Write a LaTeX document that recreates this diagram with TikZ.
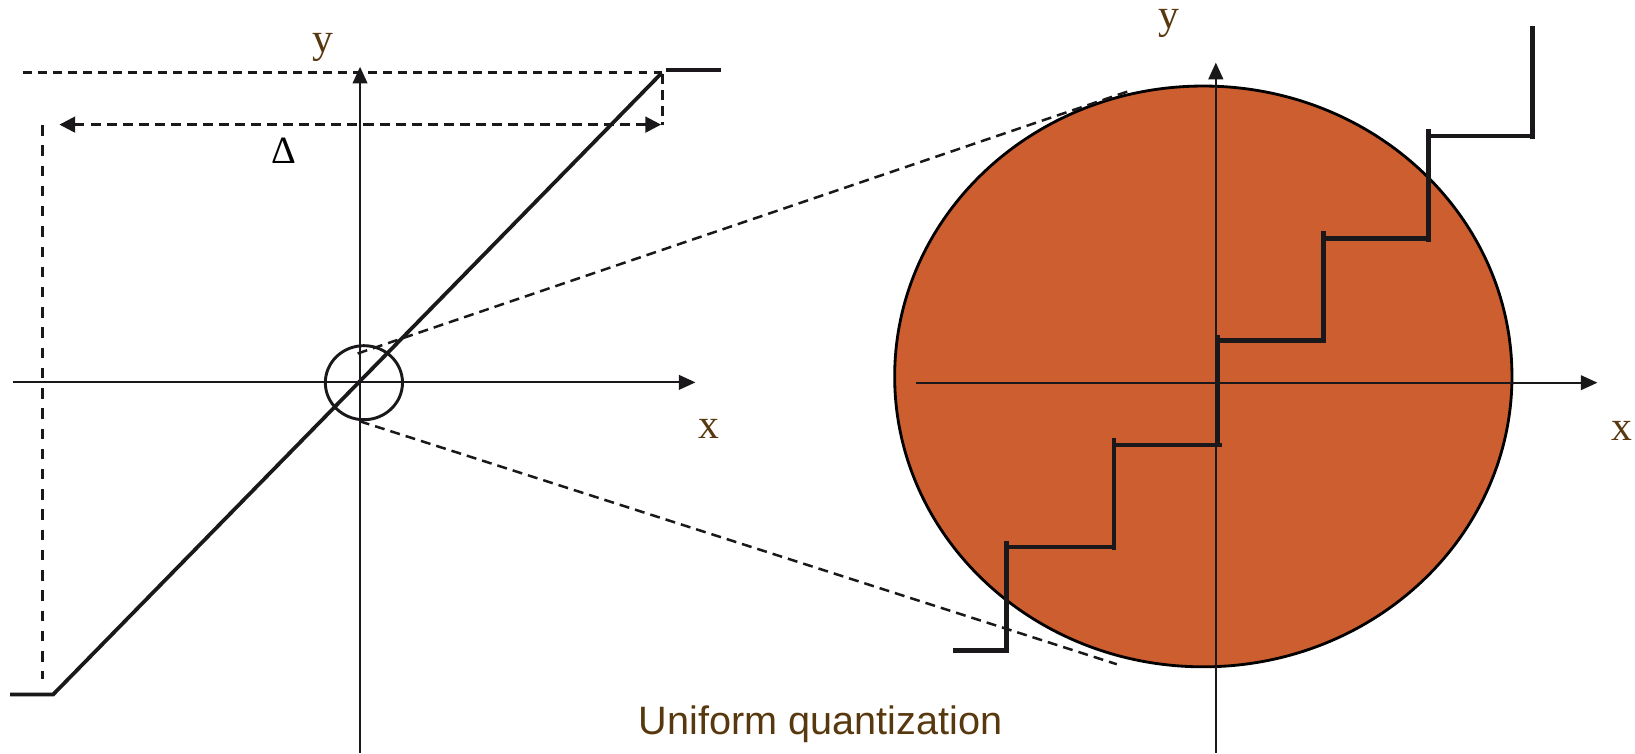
\documentclass[tikz,border=0pt]{standalone}
\usepackage{fontspec}
\setmainfont{Liberation Serif}
\newfontfamily\arialfont{Liberation Sans}
\usetikzlibrary{arrows.meta}
\definecolor{labelbrown}{RGB}{88,56,14}
\definecolor{ovalfill}{RGB}{204,94,48}
\definecolor{inkblack}{RGB}{26,24,26}
\begin{document}
\begin{tikzpicture}[x=0.5pt,y=-0.5pt,
  axisline/.style={line width=1.05pt, draw=inkblack, -{Triangle[length=8pt,width=7pt]}},
  dashline/.style={line width=1.2pt, draw=inkblack, dash pattern=on 4.8pt off 2.9pt},
  longdash/.style={line width=1.2pt, draw=inkblack, dash pattern=on 5pt off 4.7pt},
  topdash/.style={line width=1.3pt, draw=inkblack, dash pattern=on 4.2pt off 3pt},
  measure/.style={dashline, {Triangle[length=7.5pt,width=7.5pt]}-{Triangle[length=7.5pt,width=7.5pt]}},
  curve/.style={line width=1.8pt, draw=inkblack},
  stair/.style={line width=2.3pt, draw=inkblack, line cap=butt},
  axislabel/.style={text=labelbrown, font=\fontsize{20}{24}\selectfont, inner sep=0pt, anchor=base},
]
\useasboundingbox (0,0) rectangle (1568,723);

% ---------- right: zoomed oval ----------
\coordinate (RC) at (1154,361);
\fill[ovalfill] (RC) ellipse [x radius=296, y radius=278.5];
\draw[line width=1.35pt, draw=black] (RC) ellipse [x radius=296, y radius=278.5];

% ---------- zoom lines ----------
\coordinate (Z1a) at (343,339);
\coordinate (Z1b) at (1083.7,87);
\coordinate (Z2a) at (345,404);
\coordinate (Z2b) at (1071,637);
\draw[dashline] (Z1a) -- (Z1b);
\draw[dashline] (Z2a) -- (Z2b);

% ---------- left plot ----------
\coordinate (LXs) at (12,366.7);
\coordinate (LXe) at (667,366.7);
\coordinate (LYs) at (345.3,722);
\coordinate (LYe) at (345.3,64);
\draw[axisline] (LXs) -- (LXe);
\draw[axisline] (LYs) -- (LYe);

\coordinate (TDs) at (22,69.4);
\coordinate (TDe) at (635,69.4);
\draw[topdash] (TDs) -- (TDe);

\coordinate (Dlo) at (51,666);
\coordinate (Dhi) at (634.6,70);
\coordinate (SL) at (9.6,666);
\coordinate (SHa) at (639,67.1);
\coordinate (SHb) at (691.5,67.1);
\draw[curve, line join=miter] (SL) -- (Dlo) -- (Dhi);
\draw[curve] (SHa) -- (SHb);

\coordinate (DAl) at (57,119.5);
\coordinate (DAr) at (634,119.5);
\draw[measure] (DAl) -- (DAr);
\coordinate (RVa) at (635.5,71);
\coordinate (RVb) at (635.5,119.5);
\draw[dashline] (RVa) -- (RVb);
\coordinate (LVa) at (40.6,120);
\coordinate (LVb) at (40.6,651);
\draw[longdash] (LVa) -- (LVb);

\coordinate (ZC) at (349,367);
\draw[line width=1.4pt, draw=inkblack] (ZC) ellipse [x radius=37, y radius=35.5];

\node[axislabel] (ly) at (310,50.3) {y};
\node[axislabel] (lx) at (680,421) {x};
\node[text=black, font=\fontsize{18.5}{22}\selectfont, inner sep=0pt, anchor=base] (delta) at (272.5,156.7) {Δ};

% ---------- right axes ----------
\coordinate (RXs) at (878,367);
\coordinate (RXe) at (1532,367);
\coordinate (RYs) at (1166,722);
\coordinate (RYe) at (1166,60);
\draw[axisline] (RXs) -- (RXe);
\draw[axisline] (RYs) -- (RYe);
\node[axislabel] (ry) at (1121,27.5) {y};
\node[axislabel] (rx) at (1555,422) {x};

% ---------- staircase ----------
\draw[stair] (914,623.5) -- (968,623.5);
\draw[stair] (965.5,624.6) -- (965.5,518.5);
\draw[stair] (965.5,524.6) -- (1069.5,524.6);
\draw[stair] (1068.4,527.5) -- (1068.4,420);
\draw[stair] (1066,426.8) -- (1171.7,426.8);
\draw[stair] (1168,427) -- (1168,321.3);
\draw[stair] (1167,326.7) -- (1271.7,326.7);
\draw[stair] (1269,328.6) -- (1269,222);
\draw[stair] (1269,228.6) -- (1372,228.6);
\draw[stair] (1369.6,231.8) -- (1369.6,124);
\draw[stair] (1369.6,130.4) -- (1472,130.4);
\draw[stair] (1470,133) -- (1470,25);

% ---------- caption ----------
\node[text=labelbrown, font=\arialfont\fontsize{19}{23}\selectfont, inner sep=0pt, anchor=base] (cap) at (787,704.3) {Uniform quantization};
\end{tikzpicture}
\end{document}
